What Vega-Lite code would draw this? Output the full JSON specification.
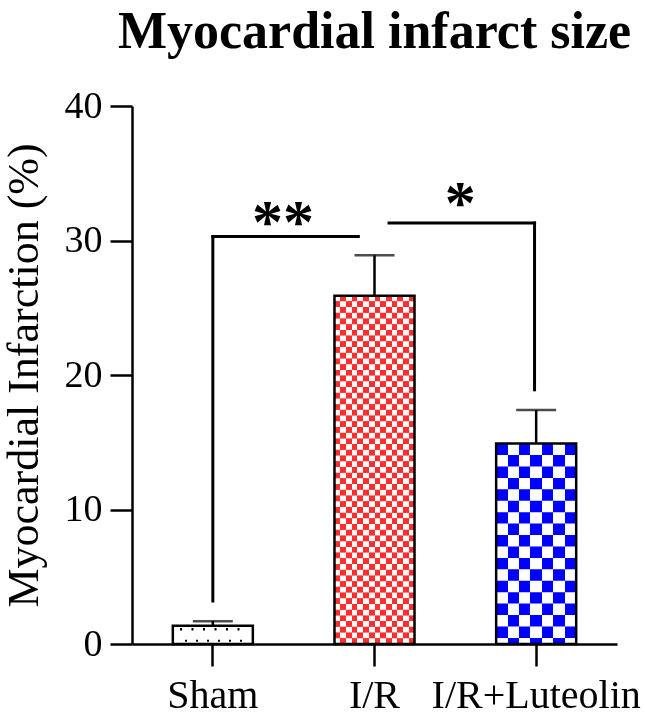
{
  "$schema": "https://vega.github.io/schema/vega-lite/v6.json",
  "width": 485,
  "height": 538,
  "autosize": "none",
  "padding": {"left": 132, "top": 106, "right": 28, "bottom": 71},
  "background": "white",
  "title": {"text": "Myocardial infarct size", "font": "Liberation Serif", "fontSize": 52, "fontWeight": "bold", "color": "black", "anchor": "middle", "frame": "group", "baseline": "alphabetic", "offset": -13},
  "datasets": {
    "bars": [
      {"group": "Sham", "value": 1.35, "upper": 1.7},
      {"group": "I/R", "value": 25.9, "upper": 28.9},
      {"group": "I/R+Luteolin", "value": 14.9, "upper": 17.4}
    ],
    "brackets": [
      {"bx": 0.5, "bx2": 0.5, "by": 3.2, "by2": 30.3},
      {"bx": 0.5, "bx2": 1.4, "by": 30.3, "by2": 30.3},
      {"bx": 1.59, "bx2": 2.49, "by": 31.3, "by2": 31.3},
      {"bx": 2.49, "bx2": 2.49, "by": 31.3, "by2": 18.9}
    ],
    "stars": [
      {"bx": 0.934, "by": 32.2, "label": "**"},
      {"bx": 2.03, "by": 33.6, "label": "*"}
    ]
  },
  "layer": [
    {
      "data": {"name": "bars"},
      "encoding": {
        "x": {"field": "group", "type": "nominal", "scale": {"domain": ["Sham", "I/R", "I/R+Luteolin"], "paddingInner": 0.505, "paddingOuter": 0.2525}, "axis": {"title": null, "labelAngle": 0, "labelFontSize": 40, "labelPadding": 9, "labelLimit": 400, "labelOverlap": false, "labelBound": false}},
        "y": {"field": "value", "type": "quantitative", "title": "Myocardial Infarction (%)", "scale": {"domain": [0, 40], "nice": false}, "axis": {"values": [0, 10, 20, 30, 40], "labelFontSize": 38, "labelPadding": 8, "titleFontSize": 44, "titlePadding": 18}}
      },
      "layer": [
        {"transform": [{"filter": "datum.group === 'Sham'"}], "mark": {"type": "bar", "fill": "white"}},
        {"transform": [{"filter": "datum.group === 'I/R'"}], "mark": {"type": "bar", "fill": {"gradient": "linear", "x1": 0, "y1": 0, "x2": 1, "y2": 0, "stops": [
          {"offset": 0, "color": "black"}, {"offset": 0.0714, "color": "black"}, {"offset": 0.0714, "color": "white"}, {"offset": 0.1429, "color": "white"},
          {"offset": 0.1429, "color": "black"}, {"offset": 0.2143, "color": "black"}, {"offset": 0.2143, "color": "white"}, {"offset": 0.2857, "color": "white"},
          {"offset": 0.2857, "color": "black"}, {"offset": 0.3571, "color": "black"}, {"offset": 0.3571, "color": "white"}, {"offset": 0.4286, "color": "white"},
          {"offset": 0.4286, "color": "black"}, {"offset": 0.5, "color": "black"}, {"offset": 0.5, "color": "white"}, {"offset": 0.5714, "color": "white"},
          {"offset": 0.5714, "color": "black"}, {"offset": 0.6429, "color": "black"}, {"offset": 0.6429, "color": "white"}, {"offset": 0.7143, "color": "white"},
          {"offset": 0.7143, "color": "black"}, {"offset": 0.7857, "color": "black"}, {"offset": 0.7857, "color": "white"}, {"offset": 0.8571, "color": "white"},
          {"offset": 0.8571, "color": "black"}, {"offset": 0.9286, "color": "black"}, {"offset": 0.9286, "color": "white"}, {"offset": 1, "color": "white"}
        ]}}},
        {"transform": [{"filter": "datum.group === 'I/R'"}], "mark": {"type": "rule", "stroke": "white", "strokeWidth": 80, "strokeDash": [5.71, 5.71], "strokeCap": "butt", "blend": "difference"}, "encoding": {"y2": {"datum": 0}}},
        {"transform": [{"filter": "datum.group === 'I/R'"}], "mark": {"type": "bar", "fill": "#ff2e2e", "blend": "lighten"}},
        {"transform": [{"filter": "datum.group === 'I/R+Luteolin'"}], "mark": {"type": "bar", "fill": {"gradient": "linear", "x1": 0, "y1": 0, "x2": 1, "y2": 0, "stops": [
          {"offset": 0, "color": "white"}, {"offset": 0.1429, "color": "white"}, {"offset": 0.1429, "color": "black"}, {"offset": 0.2857, "color": "black"},
          {"offset": 0.2857, "color": "white"}, {"offset": 0.4286, "color": "white"}, {"offset": 0.4286, "color": "black"}, {"offset": 0.5714, "color": "black"},
          {"offset": 0.5714, "color": "white"}, {"offset": 0.7143, "color": "white"}, {"offset": 0.7143, "color": "black"}, {"offset": 0.8571, "color": "black"},
          {"offset": 0.8571, "color": "white"}, {"offset": 1, "color": "white"}
        ]}}},
        {"transform": [{"filter": "datum.group === 'I/R+Luteolin'"}], "mark": {"type": "rule", "stroke": "white", "strokeWidth": 80, "strokeDash": [11.43, 11.43], "strokeCap": "butt", "blend": "difference"}, "encoding": {"y2": {"datum": 0}}},
        {"transform": [{"filter": "datum.group === 'I/R+Luteolin'"}], "mark": {"type": "bar", "fill": "#0000ff", "blend": "lighten"}},
        {"mark": {"type": "bar", "fillOpacity": 0, "stroke": "black", "strokeWidth": 2.5}},
        {"mark": {"type": "rule", "strokeWidth": 2.5, "color": "black"}, "encoding": {"y2": {"field": "upper"}}},
        {"mark": {"type": "tick", "size": 40, "thickness": 2.5, "color": "black", "orient": "horizontal"}, "encoding": {"y": {"field": "upper", "type": "quantitative", "title": "Myocardial Infarction (%)"}}}
      ]
    },
    {
      "layer": [
        {
          "data": {"name": "brackets"},
          "mark": {"type": "rule", "strokeWidth": 3, "color": "black", "strokeCap": "square"},
          "encoding": {
            "x": {"field": "bx", "type": "quantitative", "scale": {"domain": [0, 3], "nice": false, "zero": false}, "axis": null},
            "x2": {"field": "bx2"},
            "y": {"field": "by", "type": "quantitative", "title": "Myocardial Infarction (%)"},
            "y2": {"field": "by2"}
          }
        },
        {
          "data": {"name": "stars"},
          "mark": {"type": "text", "font": "Liberation Serif", "fontSize": 62, "fontWeight": "bold", "baseline": "alphabetic", "dy": 31, "color": "black"},
          "encoding": {
            "x": {"field": "bx", "type": "quantitative", "scale": {"domain": [0, 3], "nice": false, "zero": false}, "axis": null},
            "y": {"field": "by", "type": "quantitative", "title": "Myocardial Infarction (%)"},
            "text": {"field": "label"}
          }
        },
        {
          "data": {"values": [{}]},
          "mark": {"type": "rule", "strokeWidth": 2, "strokeDash": [2, 9], "color": "black"},
          "encoding": {
            "x": {"datum": 0.328, "type": "quantitative", "scale": {"domain": [0, 3], "nice": false, "zero": false}, "axis": null},
            "x2": {"datum": 0.73},
            "y": {"datum": 0.25, "type": "quantitative", "title": "Myocardial Infarction (%)"}
          }
        },
        {
          "data": {"values": [{}]},
          "mark": {"type": "rule", "strokeWidth": 2.5, "strokeDash": [2, 9.5], "color": "black"},
          "encoding": {
            "x": {"datum": 0.297, "type": "quantitative", "scale": {"domain": [0, 3], "nice": false, "zero": false}, "axis": null},
            "x2": {"datum": 0.724},
            "y": {"datum": 1.1, "type": "quantitative", "title": "Myocardial Infarction (%)"}
          }
        }
      ]
    }
  ],
  "resolve": {"scale": {"x": "independent"}},
  "config": {
    "view": {"stroke": null},
    "font": "Liberation Serif",
    "axis": {"grid": false, "domainColor": "black", "domainWidth": 2.5, "tickColor": "black", "tickWidth": 2.5, "tickSize": 22, "labelFont": "Liberation Serif", "labelColor": "black", "titleFont": "Liberation Serif", "titleColor": "black", "titleFontWeight": "normal"}
  }
}
